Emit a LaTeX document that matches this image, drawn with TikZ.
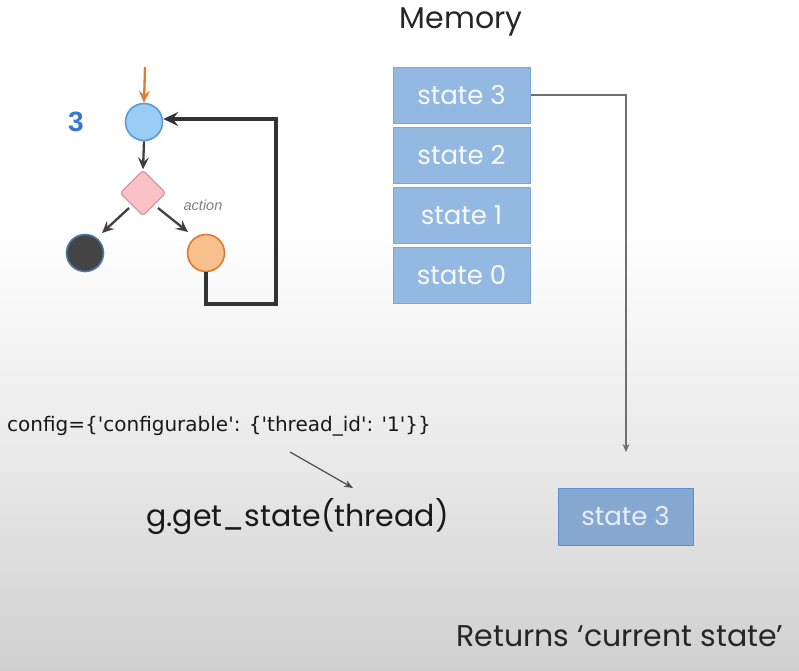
\documentclass[tikz,border=0pt]{standalone}
\usepackage{fontspec}
\setmainfont{Poppins}
\newfontfamily\verd{DejaVu Sans}
\newfontfamily\arial{Liberation Sans}
\usetikzlibrary{arrows.meta,shapes.geometric}
\definecolor{bgbot}{HTML}{D0D0D0}
\definecolor{bgmid}{HTML}{EAEAEA}
\definecolor{memfill}{HTML}{93B8E2}
\definecolor{memdraw}{HTML}{7BA7DB}
\definecolor{resfill}{HTML}{86A8D0}
\definecolor{resdraw}{HTML}{5D8FD6}
\definecolor{lightblue}{HTML}{9ACDF6}
\definecolor{lightblued}{HTML}{5B9BD5}
\definecolor{pinkf}{HTML}{F9C1C5}
\definecolor{pinkd}{HTML}{D89AA0}
\definecolor{orf}{HTML}{F7C08C}
\definecolor{ord}{HTML}{E07A30}
\definecolor{darkf}{HTML}{444444}
\definecolor{numblue}{HTML}{3575D3}
\definecolor{conn}{HTML}{707070}
\begin{document}
\begin{tikzpicture}[x=1pt,y=-1pt,
  membox/.style={draw=memdraw,fill=memfill,line width=1pt,minimum width=137pt,minimum height=56pt,inner sep=0pt,text=white!92!memfill,font=\fontsize{26}{26}\selectfont},
  resbox/.style={draw=resdraw,fill=resfill,line width=1pt,minimum width=135pt,minimum height=57pt,inner sep=0pt,text=white!80!resfill,font=\fontsize{26}{26}\selectfont},
  gcirc/.style={circle,minimum size=37pt,inner sep=0pt,line width=1.6pt},
  garrow/.style={-{Stealth[length=12pt,width=11pt,inset=4.5pt]},line width=2.3pt,draw=black!75},
  thinarrow/.style={-{Stealth[length=8pt,width=7pt]},line width=1.1pt,draw=conn}]
\fill[white] (0,0) rectangle (799,230);
\shade[top color=white,bottom color=bgbot,middle color=bgmid] (0,229) rectangle (799,670);
\useasboundingbox (0,0) rectangle (799,670);

\node[font=\fontsize{30}{30}\selectfont,text=black!85] (mem) at (461,22) {Memory};
\node[membox] (s3) at (461.5,95) {state 3};
\node[membox] (s2) at (461.5,155) {state 2};
\node[membox] (s1) at (461.5,215) {state 1};
\node[membox] (s0) at (461.5,275.5) {state 0};

\node[resbox] (r3) at (625.5,516.5) {state 3};
\coordinate (corner) at (626,95);
\coordinate (arrend) at (626,452);
\draw[thinarrow] (s3.east) -- (corner) -- (arrend);

\node[font=\fontsize{30}{30}\selectfont,text=black!85] (ret) at (620,636) {Returns ‘current state’};
\node[font=\fontsize{30}{30}\selectfont,text=black!90] (get) at (297.5,517) {g.get\_state(thread)};
\node[font=\verd\fontsize{20}{20}\selectfont,text=black!90] (cfg) at (219,426) {config=\{'configurable': \{'thread\_id': '1'\}\}};
\coordinate (ca) at (290,452);
\coordinate (cb) at (353,488);
\draw[-{Stealth[length=9pt,width=7pt]},line width=1.2pt,draw=black!70] (ca) -- (cb);

% graph
\node[gcirc,draw=lightblued,fill=lightblue] (top) at (144,122) {};
\node[font=\arial\bfseries\fontsize{28}{28}\selectfont,text=numblue] (num) at (76,122) {3};
\coordinate (inc) at (145,67);
\draw[-{Stealth[length=12pt,width=11pt,inset=4.5pt]},line width=2.3pt,draw=ord] (inc) -- (top.north);
\node[diamond,draw=pinkd,fill=pinkf,line width=1.3pt,minimum size=46pt,inner sep=0pt,rounded corners=3pt] (dia) at (143,193) {};
\draw[garrow] (top.south) -- (dia.north);
\node[gcirc,draw=lightblued!80!black,fill=darkf] (dark) at (85,253) {};
\node[gcirc,draw=ord,fill=orf] (act) at (206,253) {};
\coordinate (dl0) at (129,208);
\coordinate (dl1) at (102,233);
\coordinate (dr0) at (158,208);
\coordinate (dr1) at (188,232);
\draw[garrow] (dl0) -- (dl1);
\draw[garrow] (dr0) -- (dr1);
\node[font=\arial\itshape\fontsize{14.5}{14.5}\selectfont,text=black!50] (lab) at (203,205) {action};
\coordinate (l1) at (206,304);
\coordinate (l2) at (276,304);
\coordinate (l3) at (276,119);
\draw[-{Stealth[length=15pt,width=14pt,inset=5.5pt]},line width=3.3pt,draw=black!80] (act.south) -- (l1) -- (l2) -- (l3) -- (top.east |- l3);
\end{tikzpicture}
\end{document}
